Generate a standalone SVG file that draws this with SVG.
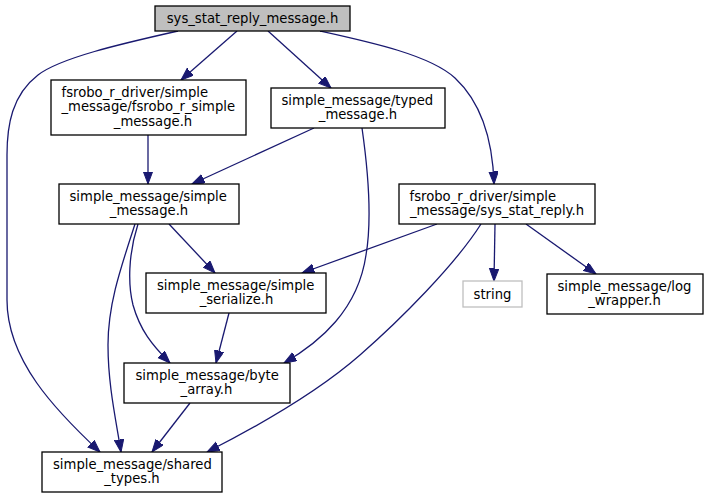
<svg xmlns="http://www.w3.org/2000/svg" width="708" height="499" viewBox="0 0 708 499">
<style>
.n rect{fill:#fff;stroke:#000;stroke-width:1.3}
.n text{font-family:"DejaVu Sans",sans-serif;font-size:13.2px;fill:#000}
.m{text-anchor:middle}
.e path{fill:none;stroke:#191970;stroke-width:1.3;marker-end:url(#a)}
</style>
<defs>
<marker id="a" markerWidth="14" markerHeight="11" refX="12.5" refY="4.7" orient="auto" markerUnits="userSpaceOnUse">
<path d="M0,0 L12.5,4.7 L0,9.4 z" fill="#191970" stroke="#191970" stroke-width="1"/>
</marker>
</defs>
<rect width="708" height="499" fill="#fff"/>
<g id="edges" class="e">
<path d="M178,31 C120,44 60,58 38,75 C12,95 7,125 7,155 L7,300 C7,360 55,410 100,452"/>
<path d="M237,31 L181,80"/>
<path d="M268,31 L331,88"/>
<path d="M320,31 C370,42 430,55 455,78 C485,106 493,150 494,184"/>
<path d="M148,135 L148,184"/>
<path d="M314,128 L192,184"/>
<path d="M362,128 C368,170 372,220 366,255 C358,310 320,342 284,363"/>
<path d="M169,224 L215,273"/>
<path d="M138,224 C128,255 128,285 133,305 C140,330 152,345 170,363"/>
<path d="M135,224 C120,270 108,305 108,345 C108,385 116,420 121,452"/>
<path d="M229,313 L216,363"/>
<path d="M190,403 L152,452"/>
<path d="M437,224 L302,273"/>
<path d="M481,224 C455,265 400,320 360,355 C320,390 260,425 207,452"/>
<path d="M495,224 L494,281"/>
<path d="M526,224 L596,274"/>
</g>
<g id="root" class="n">
<rect x="155" y="6" width="195" height="25" style="fill:#bfbfbf"/>
<text class="m" x="252.5" y="23">sys_stat_reply_message.h</text>
</g>
<g id="fsrobo_r_simple_message" class="n">
<rect x="51" y="80" width="195" height="55"/>
<text x="61.5" y="96.7">fsrobo_r_driver/simple</text>
<text x="61.5" y="111.2">_message/fsrobo_r_simple</text>
<text class="m" x="153" y="125.7">_message.h</text>
</g>
<g id="typed_message" class="n">
<rect x="271" y="88" width="174" height="40"/>
<text x="281.5" y="105">simple_message/typed</text>
<text class="m" x="358" y="119">_message.h</text>
</g>
<g id="simple_message" class="n">
<rect x="59" y="184" width="180" height="40"/>
<text x="69.5" y="201">simple_message/simple</text>
<text class="m" x="149" y="215">_message.h</text>
</g>
<g id="sys_stat_reply" class="n">
<rect x="399" y="184" width="196" height="40"/>
<text x="409.5" y="201">fsrobo_r_driver/simple</text>
<text class="m" x="497" y="215">_message/sys_stat_reply.h</text>
</g>
<g id="simple_serialize" class="n">
<rect x="146" y="273" width="180" height="40"/>
<text x="157" y="290">simple_message/simple</text>
<text class="m" x="236.5" y="304">_serialize.h</text>
</g>
<g id="string" class="n">
<rect x="463" y="281" width="59" height="26" style="stroke:#bfbfbf"/>
<text class="m" x="492.5" y="298.5">string</text>
</g>
<g id="log_wrapper" class="n">
<rect x="547" y="274" width="156" height="40"/>
<text x="557.5" y="291">simple_message/log</text>
<text class="m" x="624.5" y="305">_wrapper.h</text>
</g>
<g id="byte_array" class="n">
<rect x="124" y="363" width="166" height="40"/>
<text x="135.5" y="380">simple_message/byte</text>
<text class="m" x="206.5" y="394">_array.h</text>
</g>
<g id="shared_types" class="n">
<rect x="42" y="452" width="180" height="40"/>
<text x="53" y="469">simple_message/shared</text>
<text class="m" x="132" y="483">_types.h</text>
</g>
</svg>
